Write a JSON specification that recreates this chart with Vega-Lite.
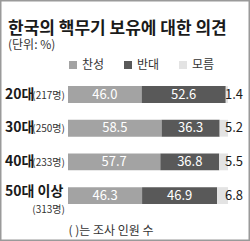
{
  "$schema": "https://vega.github.io/schema/vega-lite/v6.json",
  "width": 250,
  "height": 241,
  "autosize": {"type": "fit", "contains": "padding"},
  "padding": 0,
  "background": "white",
  "config": {
    "view": {"stroke": "#9a9a9a", "strokeWidth": 3},
    "font": "Noto Sans CJK KR"
  },
  "title": {
    "text": "한국의 핵무기 보유에 대한 의견",
    "subtitle": "(단위: %)",
    "anchor": "start",
    "frame": "group",
    "offset": -52,
    "dx": 8,
    "fontSize": 17,
    "fontWeight": "bold",
    "color": "#1a1a1a",
    "subtitleFontSize": 12,
    "subtitleColor": "#333333",
    "subtitlePadding": 2
  },
  "data": {
    "values": [
      {"age": "20대", "n": "(217명)", "cat": "찬성", "pct": 46.0},
      {"age": "20대", "n": "(217명)", "cat": "반대", "pct": 52.6},
      {"age": "20대", "n": "(217명)", "cat": "모름", "pct": 1.4},
      {"age": "30대", "n": "(250명)", "cat": "찬성", "pct": 58.5},
      {"age": "30대", "n": "(250명)", "cat": "반대", "pct": 36.3},
      {"age": "30대", "n": "(250명)", "cat": "모름", "pct": 5.2},
      {"age": "40대", "n": "(233명)", "cat": "찬성", "pct": 57.7},
      {"age": "40대", "n": "(233명)", "cat": "반대", "pct": 36.8},
      {"age": "40대", "n": "(233명)", "cat": "모름", "pct": 5.5},
      {"age": "50대 이상", "n": "(313명)", "cat": "찬성", "pct": 46.3},
      {"age": "50대 이상", "n": "(313명)", "cat": "반대", "pct": 46.9},
      {"age": "50대 이상", "n": "(313명)", "cat": "모름", "pct": 6.8}
    ]
  },
  "transform": [
    {"stack": "pct", "groupby": ["age"], "sort": [{"field": "cat", "order": "descending"}], "as": ["x0", "x1"]},
    {"calculate": "(datum.x0 + datum.x1) / 2", "as": "mid"}
  ],
  "encoding": {
    "y": {
      "field": "age",
      "type": "nominal",
      "sort": ["20대", "30대", "40대", "50대 이상"],
      "axis": null,
      "scale": {"range": [77.7, 212.4], "paddingInner": 0.5, "paddingOuter": 0.25}
    }
  },
  "layer": [
    {
      "mark": {"type": "bar"},
      "encoding": {
        "x": {
          "field": "x0",
          "type": "quantitative",
          "scale": {"domain": [-42.5, 113.75], "nice": false, "zero": false},
          "axis": {
            "domain": false, "ticks": false, "labels": false, "grid": false,
            "title": "(  )는 조사 인원 수",
            "titleX": 68, "titleY": -11, "titleAlign": "left", "titleAnchor": "start",
            "titleBaseline": "middle", "titleFontSize": 12, "titleFontWeight": "normal",
            "titleColor": "#333333", "titlePadding": 0
          }
        },
        "x2": {"field": "x1"},
        "color": {
          "field": "cat",
          "type": "nominal",
          "scale": {"domain": ["찬성", "반대", "모름"], "range": ["#a3a3a3", "#595959", "#e3e3e3"]},
          "legend": {
            "title": null,
            "orient": "none",
            "legendX": 67,
            "legendY": 59,
            "direction": "horizontal",
            "symbolType": "square",
            "symbolSize": 64,
            "symbolStrokeWidth": 0,
            "labelFontSize": 12,
            "labelColor": "#333333",
            "labelOffset": 3,
            "columnPadding": 17,
            "padding": 0
          }
        }
      }
    },
    {
      "transform": [{"filter": "datum.cat !== '모름'"}],
      "mark": {"type": "text", "color": "white", "fontSize": 13, "baseline": "middle", "font": "Liberation Sans Narrow, Noto Sans CJK KR"},
      "encoding": {
        "x": {"field": "mid", "type": "quantitative"},
        "text": {"field": "pct", "type": "quantitative", "format": ".1f"}
      }
    },
    {
      "transform": [{"filter": "datum.cat === '모름'"}],
      "mark": {"type": "text", "color": "#1a1a1a", "fontSize": 13, "align": "right", "baseline": "middle", "font": "Liberation Sans Narrow, Noto Sans CJK KR"},
      "encoding": {
        "x": {"datum": 109.4},
        "text": {"field": "pct", "type": "quantitative", "format": ".1f"}
      }
    },
    {
      "transform": [{"filter": "datum.cat === '찬성' && datum.age !== '50대 이상'"}],
      "mark": {"type": "text", "color": "#1a1a1a", "fontSize": 14, "fontWeight": "bold", "align": "left", "baseline": "middle"},
      "encoding": {
        "x": {"datum": -39.4},
        "text": {"field": "age"}
      }
    },
    {
      "transform": [{"filter": "datum.cat === '찬성' && datum.age === '50대 이상'"}],
      "mark": {"type": "text", "color": "#1a1a1a", "fontSize": 14, "fontWeight": "bold", "align": "left", "baseline": "middle", "dy": -4},
      "encoding": {
        "x": {"datum": -39.4},
        "text": {"field": "age"}
      }
    },
    {
      "transform": [{"filter": "datum.cat === '찬성' && datum.age !== '50대 이상'"}],
      "mark": {"type": "text", "color": "#333333", "fontSize": 10, "align": "right", "baseline": "middle", "dy": 1},
      "encoding": {
        "x": {"datum": -1.9},
        "text": {"field": "n"}
      }
    },
    {
      "transform": [{"filter": "datum.cat === '찬성' && datum.age === '50대 이상'"}],
      "mark": {"type": "text", "color": "#333333", "fontSize": 10, "align": "right", "baseline": "middle", "dy": 14},
      "encoding": {
        "x": {"datum": -1.9},
        "text": {"field": "n"}
      }
    }
  ]
}
